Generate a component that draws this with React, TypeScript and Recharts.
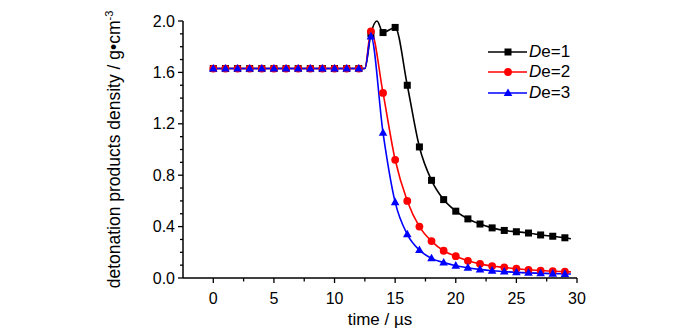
import { Label, Line, LineChart, XAxis, YAxis } from 'recharts';

// time axis (µs); non-integer times carry no marker
const times = [
  0, 1, 2, 3, 4, 5, 6, 7, 8, 9, 10, 11, 12, 12.5, 13, 13.5, 14, 15, 16, 17, 18, 19, 20, 21, 22,
  23, 24, 25, 26, 27, 28, 29, 29.5,
];

const de1 = [
  1.63, 1.63, 1.63, 1.63, 1.63, 1.63, 1.63, 1.63, 1.63, 1.63, 1.63, 1.63, 1.63, 1.63, 1.9, 2.0,
  1.91, 1.95, 1.5, 1.02, 0.76, 0.61, 0.52, 0.46, 0.42, 0.39, 0.37, 0.36, 0.35, 0.335, 0.325,
  0.313, 0.305,
];

const de2 = [
  1.63, 1.63, 1.63, 1.63, 1.63, 1.63, 1.63, 1.63, 1.63, 1.63, 1.63, 1.63, 1.63, 1.63, 1.92, null,
  1.44, 0.92, 0.6, 0.4, 0.287, 0.212, 0.17, 0.134, 0.11, 0.093, 0.083, 0.072, 0.064, 0.058, 0.053,
  0.049, 0.048,
];

const de3 = [
  1.63, 1.63, 1.63, 1.63, 1.63, 1.63, 1.63, 1.63, 1.63, 1.63, 1.63, 1.63, 1.63, 1.63, 1.88, null,
  1.13, 0.59, 0.34, 0.217, 0.153, 0.12, 0.096, 0.08, 0.067, 0.057, 0.05, 0.044, 0.04, 0.037, 0.034,
  0.032, 0.031,
];

const xTicks = [0, 2.5, 5, 7.5, 10, 12.5, 15, 17.5, 20, 22.5, 25, 27.5, 30];
const yTicks = [
  0, 0.1, 0.2, 0.3, 0.4, 0.5, 0.6, 0.7, 0.8, 0.9, 1.0, 1.1, 1.2, 1.3, 1.4, 1.5, 1.6, 1.7, 1.8, 1.9,
  2.0,
];

const series = [
  { name: '1', values: de1, color: '#000000', shape: 'square' },
  { name: '2', values: de2, color: '#ff0000', shape: 'circle' },
  { name: '3', values: de3, color: '#0000ff', shape: 'triangle' },
];

const FONT = '"Liberation Sans", Arial, sans-serif';

function toRows(values: (number | null)[]) {
  return times
    .map((t, i) => ({ t, v: values[i] }))
    .filter((r) => r.v !== null);
}

function Marker({ shape, color, cx, cy }: { shape: string; color: string; cx: number; cy: number }) {
  if (shape === 'square') {
    return <rect x={cx - 3.5} y={cy - 3.5} width={7} height={7} fill={color} />;
  }
  if (shape === 'circle') {
    return <circle cx={cx} cy={cy} r={3.9} fill={color} />;
  }
  return (
    <polygon
      points={`${cx},${cy - 4.6} ${cx - 4.3},${cy + 3} ${cx + 4.3},${cy + 3}`}
      fill={color}
    />
  );
}

function makeDot(shape: string, color: string) {
  return (props: any) => {
    const { cx, cy, payload, index } = props;
    if (cx == null || cy == null || !Number.isInteger(payload.t)) {
      return <g key={`d-${index}`} />;
    }
    return (
      <g key={`d-${index}`}>
        <Marker shape={shape} color={color} cx={cx} cy={cy} />
      </g>
    );
  };
}

function XTick({ x, y, payload }: any) {
  const v = payload.value as number;
  const major = v % 5 === 0;
  return (
    <g>
      <line x1={x} y1={y} x2={x} y2={y + (major ? 5 : 3.5)} stroke="#000" strokeWidth={1.3} />
      {major && (
        <text x={x} y={y + 26} textAnchor="middle" fontSize={16} fontFamily={FONT} fill="#000">
          {v}
        </text>
      )}
    </g>
  );
}

function YTick({ x, y, payload }: any) {
  const v = payload.value as number;
  const major = Math.round(v * 10) % 4 === 0;
  return (
    <g>
      <line x1={x} y1={y} x2={x - (major ? 5 : 3)} y2={y} stroke="#000" strokeWidth={1.3} />
      {major && (
        <text x={x - 8} y={y + 5.5} textAnchor="end" fontSize={16} fontFamily={FONT} fill="#000">
          {v.toFixed(1)}
        </text>
      )}
    </g>
  );
}

function LegendBox() {
  return (
    <div
      style={{
        position: 'absolute',
        left: 486,
        top: 41.5,
        fontFamily: FONT,
        fontSize: 17,
        color: '#000',
      }}
    >
      {series.map((s) => (
        <div key={s.name} style={{ display: 'flex', alignItems: 'center', height: 20.5 }}>
          <svg width={43} height={20} style={{ display: 'block' }}>
            <line x1={2} y1={10} x2={41} y2={10} stroke={s.color} strokeWidth={1.6} />
            <Marker shape={s.shape} color={s.color} cx={22} cy={10} />
          </svg>
          <span>
            <i>D</i>e={s.name}
          </span>
        </div>
      ))}
    </div>
  );
}

export default function App() {
  return (
    <div style={{ position: 'absolute', left: 0, top: 0, width: 700, height: 332, background: '#fff' }}>
      <LineChart width={700} height={332} margin={{ top: 21, right: 123, bottom: 24, left: 123 }}>
        <XAxis
          type="number"
          dataKey="t"
          domain={[-2.5, 30]}
          ticks={xTicks}
          interval={0}
          allowDataOverflow
          height={30}
          tickSize={0}
          tickMargin={0}
          tickLine={false}
          axisLine={{ stroke: '#000', strokeWidth: 1.5 }}
          tick={<XTick />}
        >
          <Label
            content={({ viewBox }: any) => (
              <text
                x={viewBox.x + viewBox.width / 2}
                y={viewBox.y + 47}
                textAnchor="middle"
                fontSize={17}
                fontFamily={FONT}
                fill="#000"
              >
                time / µs
              </text>
            )}
          />
        </XAxis>
        <YAxis
          type="number"
          dataKey="v"
          domain={[0, 2]}
          ticks={yTicks}
          interval={0}
          width={60}
          tickSize={0}
          tickMargin={0}
          tickLine={false}
          axisLine={{ stroke: '#000', strokeWidth: 1.5 }}
          tick={<YTick />}
        >
          <Label
            content={({ viewBox }: any) => {
              const cx = viewBox.x - 3;
              const cy = viewBox.y + viewBox.height / 2;
              return (
                <text
                  x={cx}
                  y={cy}
                  transform={`rotate(-90, ${cx}, ${cy})`}
                  textAnchor="middle"
                  fontSize={17.5}
                  fontFamily={FONT}
                  fill="#000"
                >
                  detonation products density / g•cm
                  <tspan fontSize={11} dy={-7}>
                    -3
                  </tspan>
                </text>
              );
            }}
          />
        </YAxis>
        {series.map((s) => (
          <Line
            key={s.name}
            data={toRows(s.values)}
            dataKey="v"
            type="monotone"
            stroke={s.color}
            strokeWidth={1.6}
            dot={makeDot(s.shape, s.color)}
            activeDot={false}
            isAnimationActive={false}
          />
        ))}
      </LineChart>
      <LegendBox />
    </div>
  );
}
